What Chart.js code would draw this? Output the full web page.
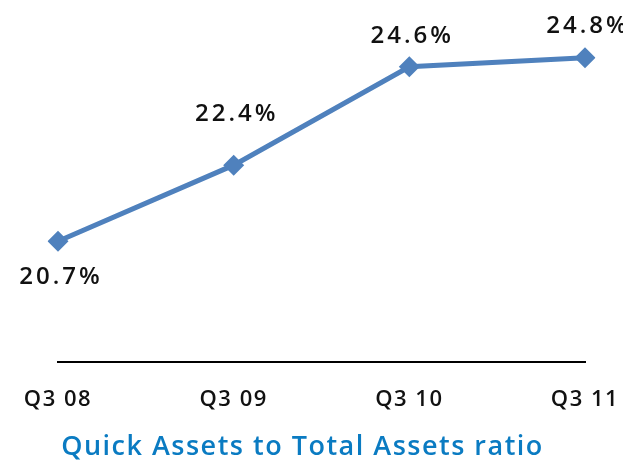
<!DOCTYPE html>
<html>
<head>
<meta charset="utf-8">
<script src="https://cdn.jsdelivr.net/npm/chart.js"></script>
<style>
  html, body { margin: 0; padding: 0; background: #fff; }
  #wrap { width: 623px; height: 464px; }
</style>
</head>
<body>
<div id="wrap"><canvas id="chart"></canvas></div>
<script>
const categories = ['Q3 08', 'Q3 09', 'Q3 10', 'Q3 11']
const ratioValues = [20.7, 22.4, 24.6, 24.8]
const ratioLabels = ['20.7%', '22.4%', '24.6%', '24.8%']
const chartTitle = 'Quick Assets to Total Assets ratio'

// vertical offset of each value label from its point (negative = above)
const labelOffsets = [36, -51, -31, -32]

const spacing = {
    id: 'spacing',
    beforeDraw(chart) {
        chart.ctx.letterSpacing = '1.5px'
    }
}

const pointLabels = {
    id: 'pointLabels',
    afterDatasetsDraw(chart) {
        const ctx = chart.ctx
        const meta = chart.getDatasetMeta(0)
        ctx.save()
        ctx.letterSpacing = '3px'
        ctx.font = '600 24px "Open Sans"'
        ctx.fillStyle = '#111'
        ctx.textAlign = 'center'
        ctx.textBaseline = 'middle'
        meta.data.forEach((pt, i) => {
            ctx.fillText(ratioLabels[i], pt.x + 3, pt.y + labelOffsets[i])
        })
        ctx.restore()
    }
}

const config = {
    type: 'line',
    data: {
        labels: categories,
        datasets: [{
            data: ratioValues,
            borderColor: '#4F81BD',
            backgroundColor: '#4F81BD',
            borderWidth: 5,
            pointStyle: 'rectRot',
            pointRadius: 10.5,
            pointBorderWidth: 0,
            tension: 0
        }]
    },
    options: {
        responsive: false,
        animation: false,
        layout: {
            padding: { top: 22, left: 20, right: 38, bottom: 0 }
        },
        plugins: {
            legend: { display: false },
            tooltip: { enabled: false },
            title: {
                display: true,
                text: chartTitle,
                position: 'bottom',
                color: '#0A7BC2',
                font: { family: '"Open Sans"', size: 27, weight: '600' },
                padding: { top: 7, bottom: 0 }
            }
        },
        scales: {
            x: {
                offset: false,
                grid: { display: false, drawTicks: false },
                border: { display: true, color: '#000', width: 2 },
                ticks: {
                    color: '#111',
                    padding: 25,
                    maxRotation: 0,
                    autoSkip: false,
                    font: { family: '"Open Sans"', size: 22, weight: '600' }
                },
                afterFit(scale) {
                    scale.height = 62.6
                    scale.paddingLeft = 58
                    scale.paddingRight = 0
                }
            },
            y: {
                display: false,
                min: 18,
                max: 25.6
            }
        }
    },
    plugins: [spacing, pointLabels]
}

const canvas = document.getElementById('chart')
canvas.width = 623
canvas.height = 464
new Chart(canvas, config)
</script>
</body>
</html>
